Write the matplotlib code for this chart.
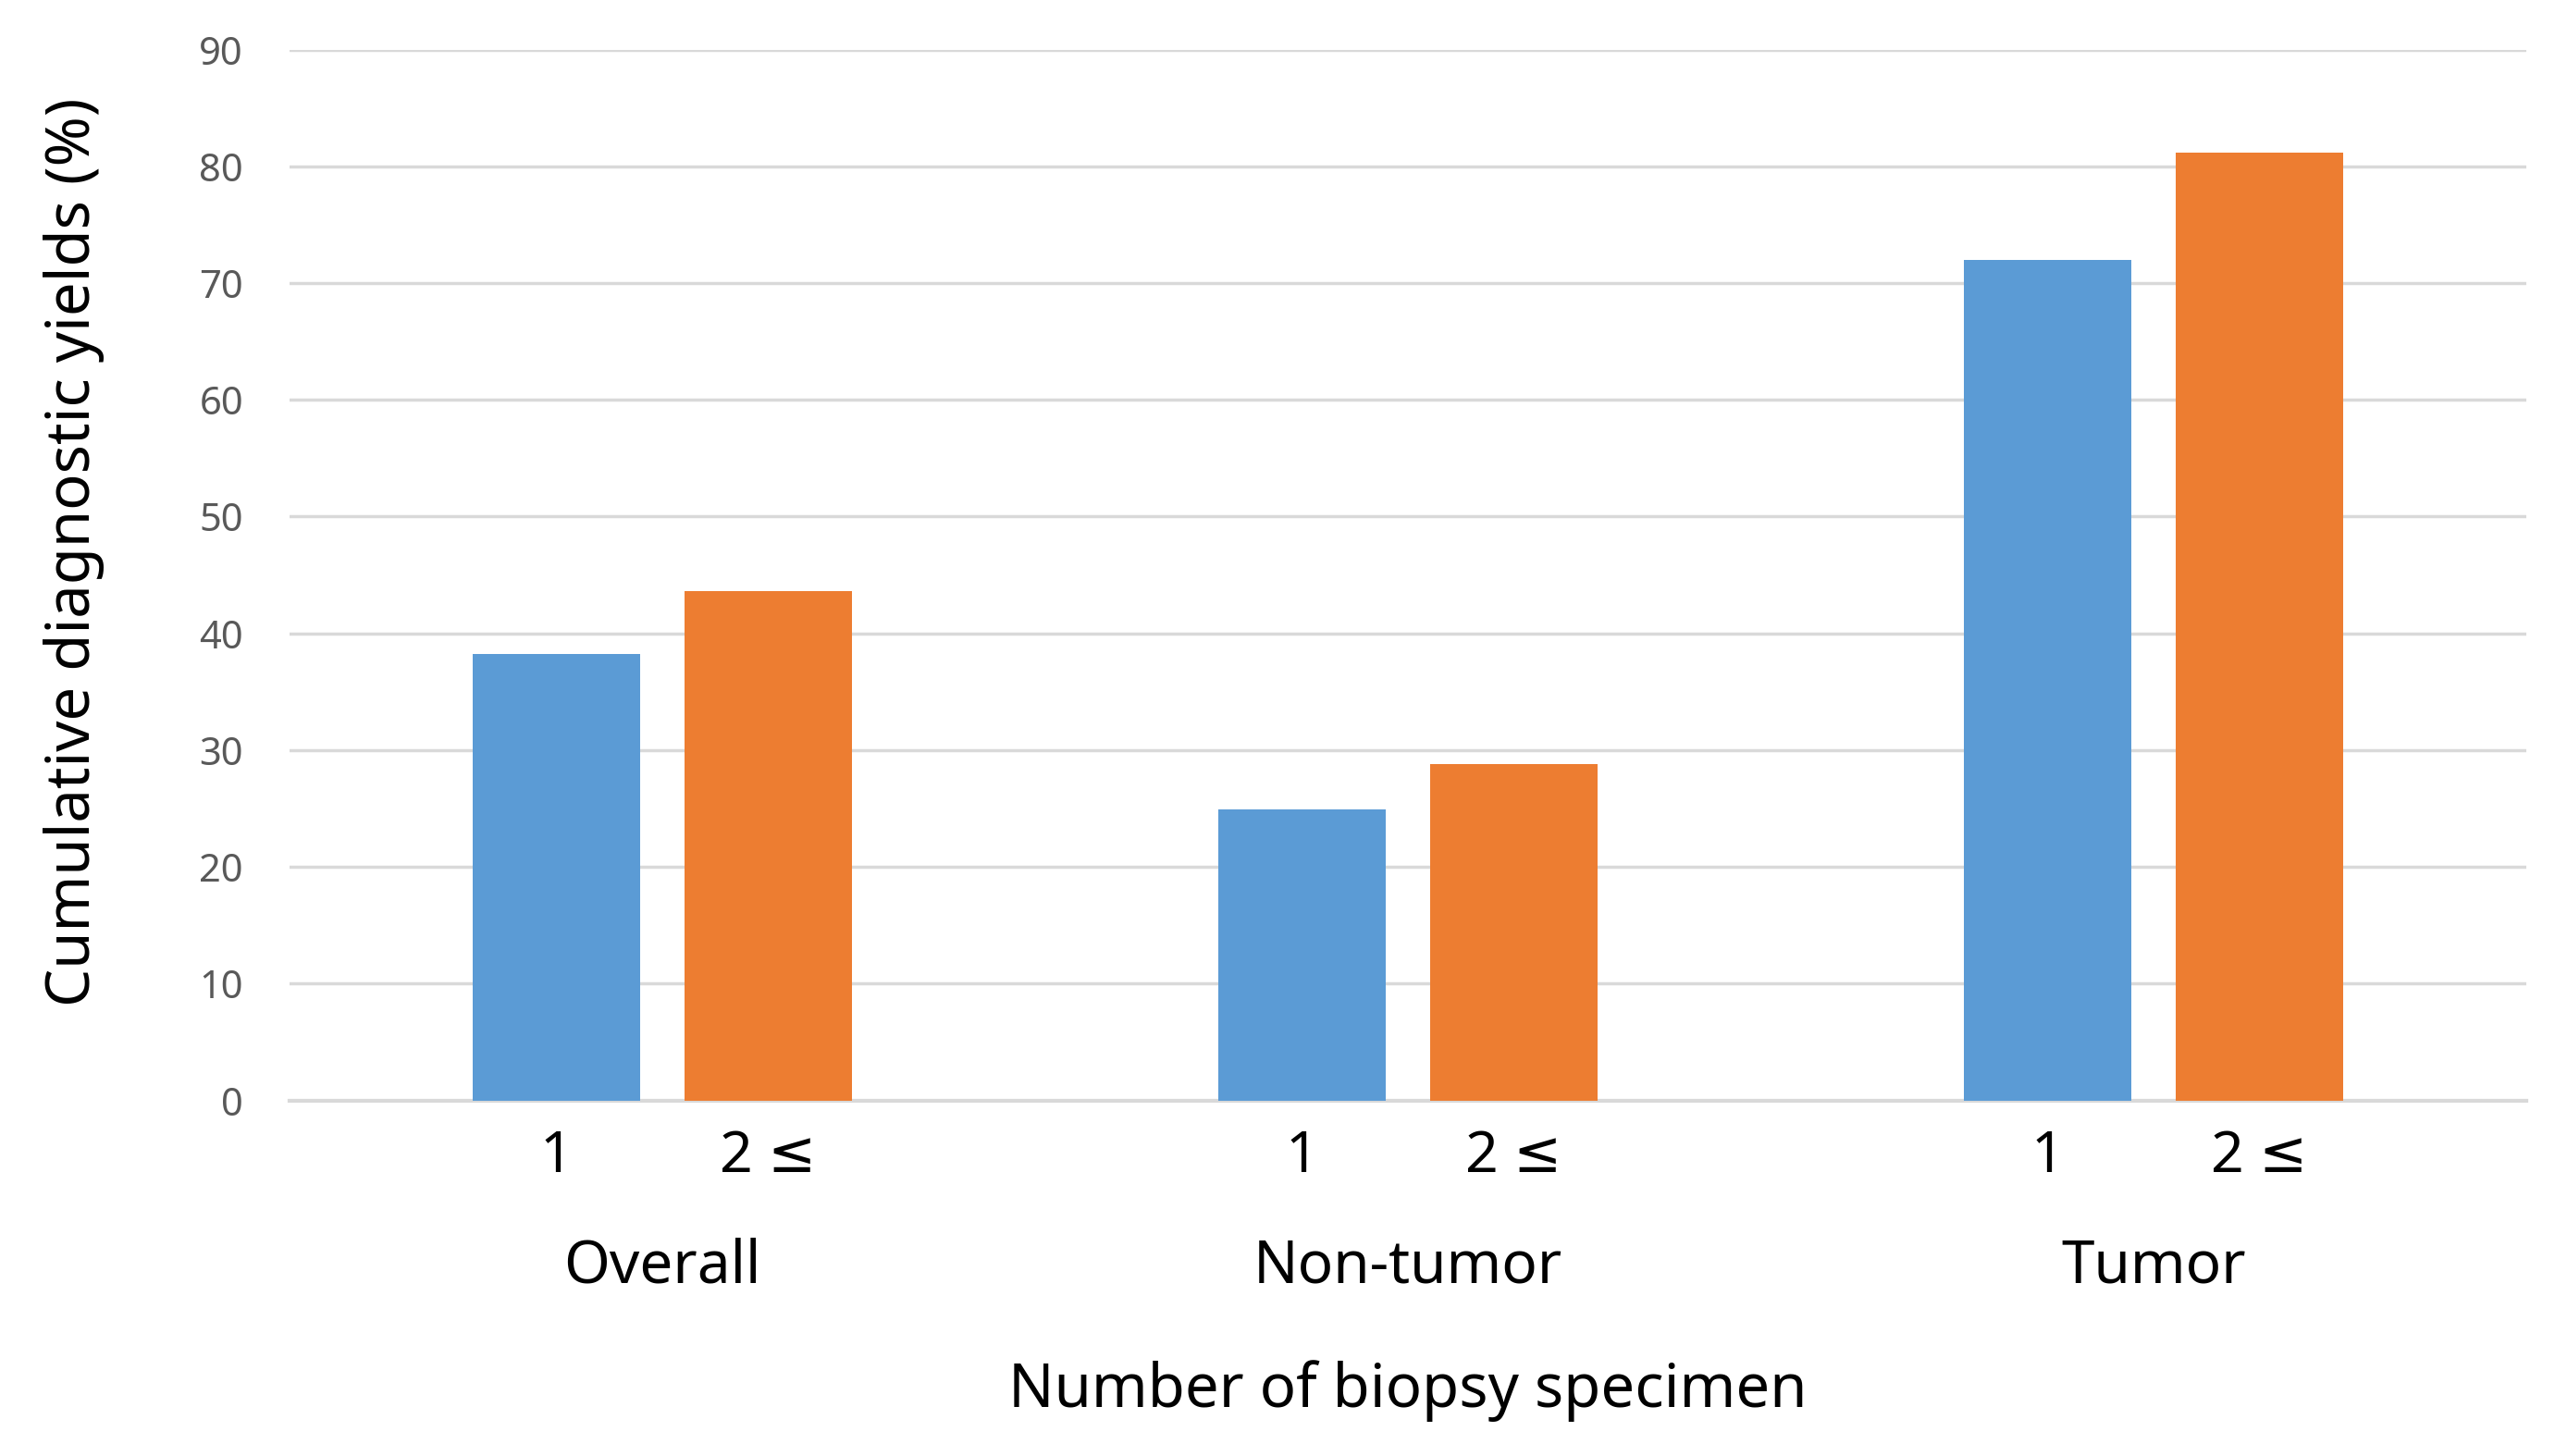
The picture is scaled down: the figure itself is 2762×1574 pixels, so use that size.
import matplotlib
matplotlib.use("Agg")
import matplotlib.pyplot as plt
import numpy as np

# data
groups = ["Overall", "Non-tumor", "Tumor"]
one_specimen = [38.2, 24.9, 72.0]
two_or_more = [43.6, 28.8, 81.2]
series_labels = ["1", "2 \u2264"]
yticks = [0, 10, 20, 30, 40, 50, 60, 70, 80, 90]

plt.rcParams['font.family'] = ['Noto Sans', 'DejaVu Sans']

blue = "#5B9BD5"
orange = "#ED7D31"
grid_col = "#D9D9D9"

fig = plt.figure(figsize=(27.62, 15.74), dpi=100)
ax = fig.add_axes([0.1133, 0.2442, 0.8754, 0.7218])

x = np.arange(len(groups))
width = 0.225
offset = (width + 0.059) / 2

ax.bar(x - offset, one_specimen, width, color=blue, zorder=3)
ax.bar(x + offset, two_or_more, width, color=orange, zorder=3)

ax.set_xlim(-0.5, 2.5)
ax.set_ylim(0, 90)
ax.set_yticks(yticks)
ax.tick_params(axis='y', length=0, pad=36, labelsize=30, labelcolor="#595959")
ax.yaxis.grid(True, color=grid_col, linewidth=2.5, zorder=0)
ax.set_axisbelow(True)

for s in ["top", "right", "left"]:
    ax.spines[s].set_visible(False)
ax.spines["bottom"].set_color(grid_col)
ax.spines["bottom"].set_linewidth(3)

# per-bar tick labels
tick_pos = np.concatenate([x - offset, x + offset])
tick_lab = [series_labels[0]] * len(groups) + [series_labels[1]] * len(groups)
ax.set_xticks(tick_pos)
ax.set_xticklabels(tick_lab)
ax.tick_params(axis='x', length=0, pad=22, labelsize=45, labelcolor="black")

# group labels below the ticks
for xi, g in zip(x, groups):
    ax.text(xi, -0.158, g, transform=ax.get_xaxis_transform(), ha="center", va="center",
            fontsize=46)

ax.text(0.5, -0.276, "Number of biopsy specimen", transform=ax.transAxes,
        ha="center", va="center", fontsize=47)
fig.text(0.029, 0.621, "Cumulative diagnostic yields (%)", rotation=90,
         ha="center", va="center", fontsize=47)

fig.savefig("out.png", dpi=100, facecolor="white")
